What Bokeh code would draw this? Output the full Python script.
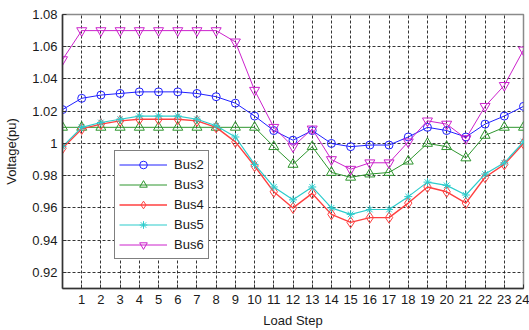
from bokeh.plotting import figure
from bokeh.models import FixedTicker, Range1d, Legend, LegendItem
from bokeh.embed import file_html
from bokeh.resources import INLINE

steps = list(range(0, 25))
bus2 = [1.021, 1.028, 1.030, 1.031, 1.032, 1.032, 1.032, 1.031, 1.029, 1.025, 1.017, 1.008, 1.002,
        1.008, 1.000, 0.998, 0.999, 0.999, 1.004, 1.010, 1.008, 1.004, 1.012, 1.017, 1.023]
bus3 = [1.010, 1.010, 1.010, 1.010, 1.010, 1.010, 1.010, 1.010, 1.010, 1.010, 1.010, 0.998, 0.987,
        0.998, 0.982, 0.979, 0.981, 0.982, 0.989, 1.000, 0.998, 0.991, 1.005, 1.010, 1.010]
bus4 = [0.997, 1.009, 1.012, 1.014, 1.015, 1.015, 1.015, 1.014, 1.010, 1.001, 0.986, 0.970, 0.960,
        0.969, 0.956, 0.951, 0.954, 0.954, 0.963, 0.973, 0.970, 0.963, 0.979, 0.987, 1.000]
bus5 = [0.998, 1.010, 1.013, 1.015, 1.017, 1.017, 1.017, 1.015, 1.011, 1.004, 0.987, 0.973, 0.965,
        0.973, 0.960, 0.956, 0.959, 0.959, 0.967, 0.976, 0.974, 0.968, 0.981, 0.988, 1.001]
bus6 = [1.052, 1.070, 1.070, 1.070, 1.070, 1.070, 1.070, 1.070, 1.070, 1.063, 1.033, 1.010, 0.998,
        1.009, 0.990, 0.984, 0.988, 0.988, 1.001, 1.014, 1.012, 1.003, 1.023, 1.036, 1.058]

x_ticks = list(range(1, 25))
y_ticks = [0.92, 0.94, 0.96, 0.98, 1.0, 1.02, 1.04, 1.06, 1.08]
y_labels = ["0.92", "0.94", "0.96", "0.98", "1", "1.02", "1.04", "1.06", "1.08"]

series = [
    ("Bus2", bus2, "#2020ff", "circle", 8, 1.0),
    ("Bus3", bus3, "#2e962e", "triangle", 10, 1.0),
    ("Bus4", bus4, "#ff4040", "diamond", 11, 1.4),
    ("Bus5", bus5, "#2ccccc", "asterisk", 8, 1.2),
    ("Bus6", bus6, "#cc22cc", "inverted_triangle", 10, 1.0),
]

FONT = "Liberation Sans"

p = figure(width=529, height=330, output_backend="svg", toolbar_location=None,
           x_range=Range1d(0, 24), y_range=Range1d(0.91, 1.08),
           min_border_left=62, min_border_right=6, min_border_top=14, min_border_bottom=42)
p.outline_line_color = "#8a8a8a"
p.outline_line_width = 1.5

p.xaxis.ticker = FixedTicker(ticks=x_ticks)
p.yaxis.ticker = FixedTicker(ticks=y_ticks)
p.yaxis.major_label_overrides = {t: l for t, l in zip(y_ticks, y_labels)}

for ax in (p.xaxis[0], p.yaxis[0]):
    ax.axis_line_color = "#333333"
    ax.axis_line_width = 1.5
    ax.major_tick_in = 4
    ax.major_tick_out = 0
    ax.minor_tick_in = 0
    ax.minor_tick_out = 0
    ax.major_tick_line_color = "#333333"
    ax.major_label_text_font = FONT
    ax.major_label_text_font_size = "13px"
    ax.major_label_text_color = "#1a1a1a"
    ax.axis_label_text_font = FONT
    ax.axis_label_text_font_size = "13px"
    ax.axis_label_text_font_style = "normal"
    ax.axis_label_text_color = "#1a1a1a"

p.xaxis.axis_label = "Load Step"
p.yaxis.axis_label = "Voltage(pu)"
p.xaxis.major_label_standoff = 6
p.xaxis.axis_label_standoff = 6
p.yaxis.major_label_standoff = 5
p.yaxis.axis_label_standoff = 10

for g in (p.xgrid[0], p.ygrid[0]):
    g.grid_line_color = "#111111"
    g.grid_line_dash = "3 2"
    g.grid_line_width = 1
    g.grid_line_alpha = 0.85

items = []
for name, vals, color, marker, size, lw in series:
    r1 = p.line(steps, vals, line_color=color, line_width=lw)
    r2 = p.scatter(steps, vals, marker=marker, size=size, line_color=color,
                   fill_color=None, line_width=1)
    items.append(LegendItem(label=name, renderers=[r1, r2]))

legend = Legend(items=items, location=(52, 29))
legend.border_line_color = "black"
legend.border_line_width = 1.2
legend.background_fill_color = "white"
legend.background_fill_alpha = 1
legend.label_text_font = FONT
legend.label_text_font_size = "13px"
legend.label_text_color = "#1a1a1a"
legend.glyph_width = 48
legend.glyph_height = 19
legend.label_height = 19
legend.label_standoff = 7
legend.spacing = 1
legend.padding = 4
legend.margin = 0
p.add_layout(legend, "center")

open("out.html", "w").write(file_html(p, INLINE))
